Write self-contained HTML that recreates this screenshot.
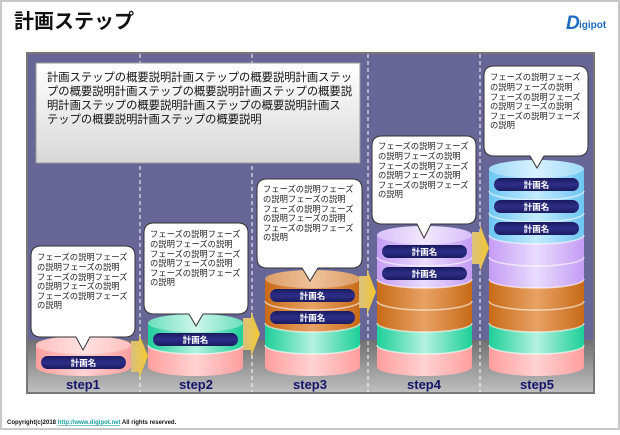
<!DOCTYPE html>
<html><head><meta charset="utf-8"><style>
html,body{margin:0;padding:0;background:#fff}
body{width:620px;height:430px;overflow:hidden;position:relative;font-family:"Liberation Sans","Noto Sans CJK JP",sans-serif}
.t{font-family:"Liberation Sans","Noto Sans CJK JP",sans-serif}
</style></head><body>
<svg width="620" height="430" viewBox="0 0 620 430" xmlns="http://www.w3.org/2000/svg">
<defs>
<linearGradient id="floor" x1="0" y1="0" x2="0" y2="1"><stop offset="0" stop-color="#707070"/><stop offset="1" stop-color="#c0c0c0"/></linearGradient>
<linearGradient id="box" x1="0" y1="0" x2="0" y2="1"><stop offset="0" stop-color="#ffffff"/><stop offset="1" stop-color="#d8d8d8"/></linearGradient>
<linearGradient id="pk" x1="0" x2="1"><stop offset="0" stop-color="#ff9e9e"/><stop offset=".5" stop-color="#ffd2d2"/><stop offset="1" stop-color="#ff9e9e"/></linearGradient>
<linearGradient id="tl" x1="0" x2="1"><stop offset="0" stop-color="#1ccf98"/><stop offset=".5" stop-color="#b4f2de"/><stop offset="1" stop-color="#1ccf98"/></linearGradient>
<linearGradient id="or" x1="0" x2="1"><stop offset="0" stop-color="#c86a18"/><stop offset=".5" stop-color="#e8a264"/><stop offset="1" stop-color="#c86a18"/></linearGradient>
<linearGradient id="pu" x1="0" x2="1"><stop offset="0" stop-color="#c49cf4"/><stop offset=".5" stop-color="#eadcff"/><stop offset="1" stop-color="#c49cf4"/></linearGradient>
<linearGradient id="bl" x1="0" x2="1"><stop offset="0" stop-color="#6cc6f2"/><stop offset=".5" stop-color="#c4eaff"/><stop offset="1" stop-color="#6cc6f2"/></linearGradient>
<linearGradient id="pill" x1="0" y1="0" x2="0" y2="1"><stop offset="0" stop-color="#1a1a60"/><stop offset=".5" stop-color="#2e2e88"/><stop offset="1" stop-color="#1a1a60"/></linearGradient>
<linearGradient id="arr" x1="0" x2="1"><stop offset="0" stop-color="#d8c080"/><stop offset="1" stop-color="#f4c830"/></linearGradient>
</defs>
<rect x="1" y="1" width="618" height="428" fill="#fff" stroke="#c8c8c8" stroke-width="2"/>
<text x="14" y="28" font-size="20" font-weight="bold" fill="#111" class="t">計画ステップ</text>
<text x="566" y="29" font-size="19" font-weight="bold" fill="#1e6cc0" font-style="italic" class="t">D</text>
<text x="579" y="28" font-size="10" font-weight="bold" fill="#1e6cc0" class="t">igipot</text>
<rect x="27" y="53" width="567" height="340" fill="#686696"/>
<rect x="27" y="340" width="567" height="53" fill="url(#floor)"/>
<rect x="27" y="53" width="567" height="340" fill="none" stroke="#777" stroke-width="2"/>
<g stroke="#fff" stroke-width="1" stroke-dasharray="4,3">
<line x1="140" y1="54" x2="140" y2="392"/><line x1="252" y1="54" x2="252" y2="392"/><line x1="368" y1="54" x2="368" y2="392"/><line x1="480" y1="54" x2="480" y2="392"/>
</g>
<rect x="36" y="63" width="324" height="100" fill="url(#box)" stroke="#999" stroke-width="1"/>
<text class="t" font-size="11.3" fill="#111">
<tspan x="47" y="81">計画ステップの概要説明計画ステップの概要説明計画ステッ</tspan>
<tspan x="47" y="95">プの概要説明計画ステップの概要説明計画ステップの概要説</tspan>
<tspan x="47" y="109">明計画ステップの概要説明計画ステップの概要説明計画ス</tspan>
<tspan x="47" y="123">テップの概要説明計画ステップの概要説明</tspan>
</text>

<!-- col1 -->
<path d="M36 345 L36 367 A47.5 9 0 0 0 131 367 L131 345 Z" fill="url(#pk)"/>
<ellipse cx="83.5" cy="345" rx="47.5" ry="9" fill="url(#pk)"/><ellipse cx="83.5" cy="345" rx="47.5" ry="9" fill="rgba(255,255,255,0.35)"/>
<!-- col2 -->
<path d="M148 345 L148 367 A47.5 9 0 0 0 243 367 L243 345 Z" fill="url(#pk)"/>
<path d="M148 323 L148 345 A47.5 9 0 0 0 243 345 L243 323 Z" fill="url(#tl)"/>
<path d="M148 345 A47.5 9 0 0 0 243 345" fill="none" stroke="rgba(255,255,255,0.6)" stroke-width="1.5"/>
<ellipse cx="195.5" cy="323" rx="47.5" ry="9" fill="url(#tl)"/><ellipse cx="195.5" cy="323" rx="47.5" ry="9" fill="rgba(255,255,255,0.35)"/>
<!-- col3 -->
<path d="M265 345 L265 367 A47.5 9 0 0 0 360 367 L360 345 Z" fill="url(#pk)"/>
<path d="M265 323 L265 345 A47.5 9 0 0 0 360 345 L360 323 Z" fill="url(#tl)"/>
<path d="M265 301 L265 323 A47.5 9 0 0 0 360 323 L360 301 Z" fill="url(#or)"/>
<path d="M265 279 L265 301 A47.5 9 0 0 0 360 301 L360 279 Z" fill="url(#or)"/>
<g fill="none" stroke="rgba(255,255,255,0.6)" stroke-width="1.5"><path d="M265 345 A47.5 9 0 0 0 360 345"/><path d="M265 323 A47.5 9 0 0 0 360 323"/><path d="M265 301 A47.5 9 0 0 0 360 301"/></g>
<ellipse cx="312.5" cy="279" rx="47.5" ry="9" fill="url(#or)"/><ellipse cx="312.5" cy="279" rx="47.5" ry="9" fill="rgba(255,255,255,0.35)"/>
<!-- col4 -->
<path d="M377 345 L377 367 A47.5 9 0 0 0 472 367 L472 345 Z" fill="url(#pk)"/>
<path d="M377 323 L377 345 A47.5 9 0 0 0 472 345 L472 323 Z" fill="url(#tl)"/>
<path d="M377 301 L377 323 A47.5 9 0 0 0 472 323 L472 301 Z" fill="url(#or)"/>
<path d="M377 279 L377 301 A47.5 9 0 0 0 472 301 L472 279 Z" fill="url(#or)"/>
<path d="M377 257 L377 279 A47.5 9 0 0 0 472 279 L472 257 Z" fill="url(#pu)"/>
<path d="M377 235 L377 257 A47.5 9 0 0 0 472 257 L472 235 Z" fill="url(#pu)"/>
<g fill="none" stroke="rgba(255,255,255,0.6)" stroke-width="1.5"><path d="M377 345 A47.5 9 0 0 0 472 345"/><path d="M377 323 A47.5 9 0 0 0 472 323"/><path d="M377 301 A47.5 9 0 0 0 472 301"/><path d="M377 279 A47.5 9 0 0 0 472 279"/><path d="M377 257 A47.5 9 0 0 0 472 257"/></g>
<ellipse cx="424.5" cy="235" rx="47.5" ry="9" fill="url(#pu)"/><ellipse cx="424.5" cy="235" rx="47.5" ry="9" fill="rgba(255,255,255,0.35)"/>
<!-- col5 -->
<path d="M489 345 L489 367 A47.5 9 0 0 0 584 367 L584 345 Z" fill="url(#pk)"/>
<path d="M489 323 L489 345 A47.5 9 0 0 0 584 345 L584 323 Z" fill="url(#tl)"/>
<path d="M489 301 L489 323 A47.5 9 0 0 0 584 323 L584 301 Z" fill="url(#or)"/>
<path d="M489 279 L489 301 A47.5 9 0 0 0 584 301 L584 279 Z" fill="url(#or)"/>
<path d="M489 257 L489 279 A47.5 9 0 0 0 584 279 L584 257 Z" fill="url(#pu)"/>
<path d="M489 235 L489 257 A47.5 9 0 0 0 584 257 L584 235 Z" fill="url(#pu)"/>
<path d="M489 213 L489 235 A47.5 9 0 0 0 584 235 L584 213 Z" fill="url(#bl)"/>
<path d="M489 191 L489 213 A47.5 9 0 0 0 584 213 L584 191 Z" fill="url(#bl)"/>
<path d="M489 169 L489 191 A47.5 9 0 0 0 584 191 L584 169 Z" fill="url(#bl)"/>
<g fill="none" stroke="rgba(255,255,255,0.6)" stroke-width="1.5"><path d="M489 345 A47.5 9 0 0 0 584 345"/><path d="M489 323 A47.5 9 0 0 0 584 323"/><path d="M489 301 A47.5 9 0 0 0 584 301"/><path d="M489 279 A47.5 9 0 0 0 584 279"/><path d="M489 257 A47.5 9 0 0 0 584 257"/><path d="M489 235 A47.5 9 0 0 0 584 235"/><path d="M489 213 A47.5 9 0 0 0 584 213"/><path d="M489 191 A47.5 9 0 0 0 584 191"/></g>
<ellipse cx="536.5" cy="169" rx="47.5" ry="9" fill="url(#bl)"/><ellipse cx="536.5" cy="169" rx="47.5" ry="9" fill="rgba(255,255,255,0.35)"/>

<!-- pills -->
<g fill="url(#pill)">
<rect x="41" y="356" width="85" height="13" rx="6.5"/>
<rect x="153" y="333" width="85" height="13" rx="6.5"/>
<rect x="270" y="289" width="85" height="13" rx="6.5"/>
<rect x="270" y="311" width="85" height="13" rx="6.5"/>
<rect x="382" y="245" width="85" height="13" rx="6.5"/>
<rect x="382" y="267" width="85" height="13" rx="6.5"/>
<rect x="494" y="178" width="85" height="13" rx="6.5"/>
<rect x="494" y="200" width="85" height="13" rx="6.5"/>
<rect x="494" y="222" width="85" height="13" rx="6.5"/>
</g>
<g class="t" font-size="8.5" font-weight="bold" fill="#fff" text-anchor="middle">
<text x="83.5" y="366">計画名</text>
<text x="195.5" y="343">計画名</text>
<text x="312.5" y="299">計画名</text><text x="312.5" y="321">計画名</text>
<text x="424.5" y="255">計画名</text><text x="424.5" y="277">計画名</text>
<text x="536.5" y="188">計画名</text><text x="536.5" y="210">計画名</text><text x="536.5" y="232">計画名</text>
</g>

<!-- arrows -->
<g fill="url(#arr)">
<polygon points="131,341 139,341 139,334 148,356 139,379 139,372 131,372"/>
<polygon points="243,318 251,318 251,311 260,334 251,357 251,350 243,350"/>
<polygon points="359,276 367,276 367,269 376,292 367,315 367,308 359,308"/>
<polygon points="472,232 480,232 480,225 489,248 480,271 480,264 472,264"/>
</g>
<!-- callouts -->
<g fill="#fff" stroke="#333" stroke-width="1">
<path d="M41 246 H125 Q135 246 135 256 V327 Q135 337 125 337 H90 L83 350 L76 337 H41 Q31 337 31 327 V256 Q31 246 41 246 Z"/>
<path d="M154 223 H238 Q248 223 248 233 V304 Q248 314 238 314 H203 L196 326 L189 314 H154 Q144 314 144 304 V233 Q144 223 154 223 Z"/>
<path d="M267 179 H352 Q362 179 362 189 V258 Q362 268 352 268 H318 L310 281 L302 268 H267 Q257 268 257 258 V189 Q257 179 267 179 Z"/>
<path d="M382 136 H466 Q476 136 476 146 V214 Q476 224 466 224 H431 L424 238 L417 224 H382 Q372 224 372 214 V146 Q372 136 382 136 Z"/>
<path d="M494 66 H578 Q588 66 588 76 V146 Q588 156 578 156 H544 L537 168 L530 156 H494 Q484 156 484 146 V76 Q484 66 494 66 Z"/>
</g>
<g class="t" font-size="8.3" fill="#222">
<text><tspan x="37" y="260">フェーズの説明フェーズ</tspan><tspan x="37" y="270">の説明フェーズの説明</tspan><tspan x="37" y="280">フェーズの説明フェーズ</tspan><tspan x="37" y="289">の説明フェーズの説明</tspan><tspan x="37" y="299">フェーズの説明フェーズ</tspan><tspan x="37" y="308">の説明</tspan></text>
<text><tspan x="150" y="237">フェーズの説明フェーズ</tspan><tspan x="150" y="247">の説明フェーズの説明</tspan><tspan x="150" y="257">フェーズの説明フェーズ</tspan><tspan x="150" y="266">の説明フェーズの説明</tspan><tspan x="150" y="276">フェーズの説明フェーズ</tspan><tspan x="150" y="285">の説明</tspan></text>
<text><tspan x="263" y="192">フェーズの説明フェーズ</tspan><tspan x="263" y="202">の説明フェーズの説明</tspan><tspan x="263" y="212">フェーズの説明フェーズ</tspan><tspan x="263" y="221">の説明フェーズの説明</tspan><tspan x="263" y="231">フェーズの説明フェーズ</tspan><tspan x="263" y="240">の説明</tspan></text>
<text><tspan x="378" y="149">フェーズの説明フェーズ</tspan><tspan x="378" y="159">の説明フェーズの説明</tspan><tspan x="378" y="169">フェーズの説明フェーズ</tspan><tspan x="378" y="178">の説明フェーズの説明</tspan><tspan x="378" y="188">フェーズの説明フェーズ</tspan><tspan x="378" y="197">の説明</tspan></text>
<text><tspan x="490" y="80">フェーズの説明フェーズ</tspan><tspan x="490" y="90">の説明フェーズの説明</tspan><tspan x="490" y="100">フェーズの説明フェーズ</tspan><tspan x="490" y="109">の説明フェーズの説明</tspan><tspan x="490" y="119">フェーズの説明フェーズ</tspan><tspan x="490" y="128">の説明</tspan></text>
</g>
<g class="t" font-size="13" font-weight="bold" fill="#14146a" text-anchor="middle">
<text x="83" y="389">step1</text><text x="196" y="389">step2</text><text x="310" y="389">step3</text><text x="424" y="389">step4</text><text x="537" y="389">step5</text>
</g>
<text x="7" y="424" font-size="6" font-weight="bold" fill="#111" class="t">Copyright(c)2018 <tspan fill="#19a0a0" text-decoration="underline">http://www.digipot.net</tspan> All rights reserved.</text>
</svg>
</body></html>
